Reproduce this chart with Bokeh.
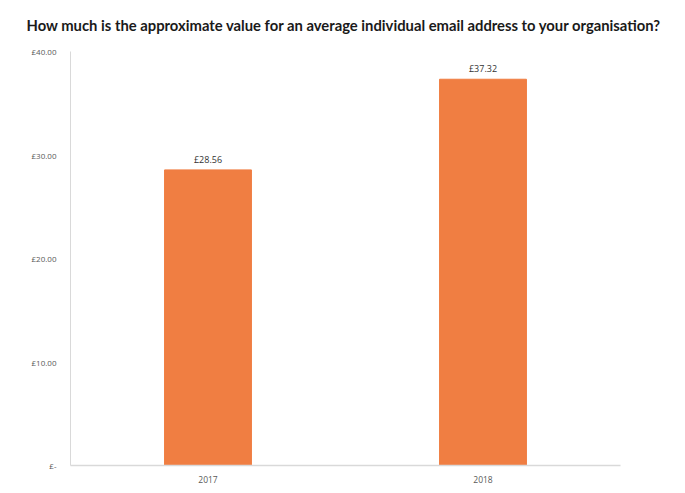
from bokeh.plotting import figure
from bokeh.models import ColumnDataSource, FixedTicker, Range1d
from bokeh.embed import file_html
from bokeh.resources import INLINE
from bokeh.core.properties import value

years = ["2017", "2018"]
values = [28.56, 37.32]
labels = ["£28.56", "£37.32"]
ticks = [0, 10, 20, 30, 40]
tick_labels = {0: "£-", 10: "£10.00", 20: "£20.00", 30: "£30.00", 40: "£40.00"}

src = ColumnDataSource(dict(x=years, top=values, label=labels))

p = figure(x_range=years, y_range=Range1d(0, 40), width=677, height=485,
           output_backend="svg", toolbar_location=None,
           title="How much is the approximate value for an average individual email address to your organisation?",
           min_border_left=70, min_border_right=57, min_border_top=51, min_border_bottom=18)
p.title.text_font = "Lato"
p.title.text_font_size = "14.8px"
p.title.text_font_style = "bold"
p.title.text_color = "#1a1a1a"
p.title.offset = -44
p.title.standoff = 31
p.title.vertical_align = "top"

p.vbar(x="x", top="top", width=0.316, source=src, color="#F07E42")
p.text(x="x", y="top", text="label", source=src, text_align="center", text_baseline="bottom",
       y_offset=-4, text_font=value("Open Sans"), text_font_size="9px", text_color="#333333")

p.outline_line_color = None
p.xgrid.grid_line_color = None
p.ygrid.grid_line_color = None
p.background_fill_color = "white"
p.border_fill_color = "white"

p.yaxis.ticker = FixedTicker(ticks=ticks)
p.yaxis.major_label_overrides = tick_labels
p.yaxis.major_tick_line_color = None
p.yaxis.minor_tick_line_color = None
p.yaxis.axis_line_color = "#d9d9d9"
p.yaxis.major_label_text_font = "Open Sans"
p.yaxis.major_label_text_font_size = "8px"
p.yaxis.major_label_text_color = "#595959"
p.yaxis.major_label_standoff = 8

p.xaxis.major_tick_line_color = None
p.xaxis.minor_tick_line_color = None
p.xaxis.axis_line_color = "#d9d9d9"
p.xaxis.axis_line_width = 1.5
p.xaxis.major_label_text_font = "Open Sans"
p.xaxis.major_label_text_font_size = "8.5px"
p.xaxis.major_label_text_color = "#595959"
p.xaxis.major_label_standoff = 4

open("out.html", "w").write(file_html(p, INLINE))
